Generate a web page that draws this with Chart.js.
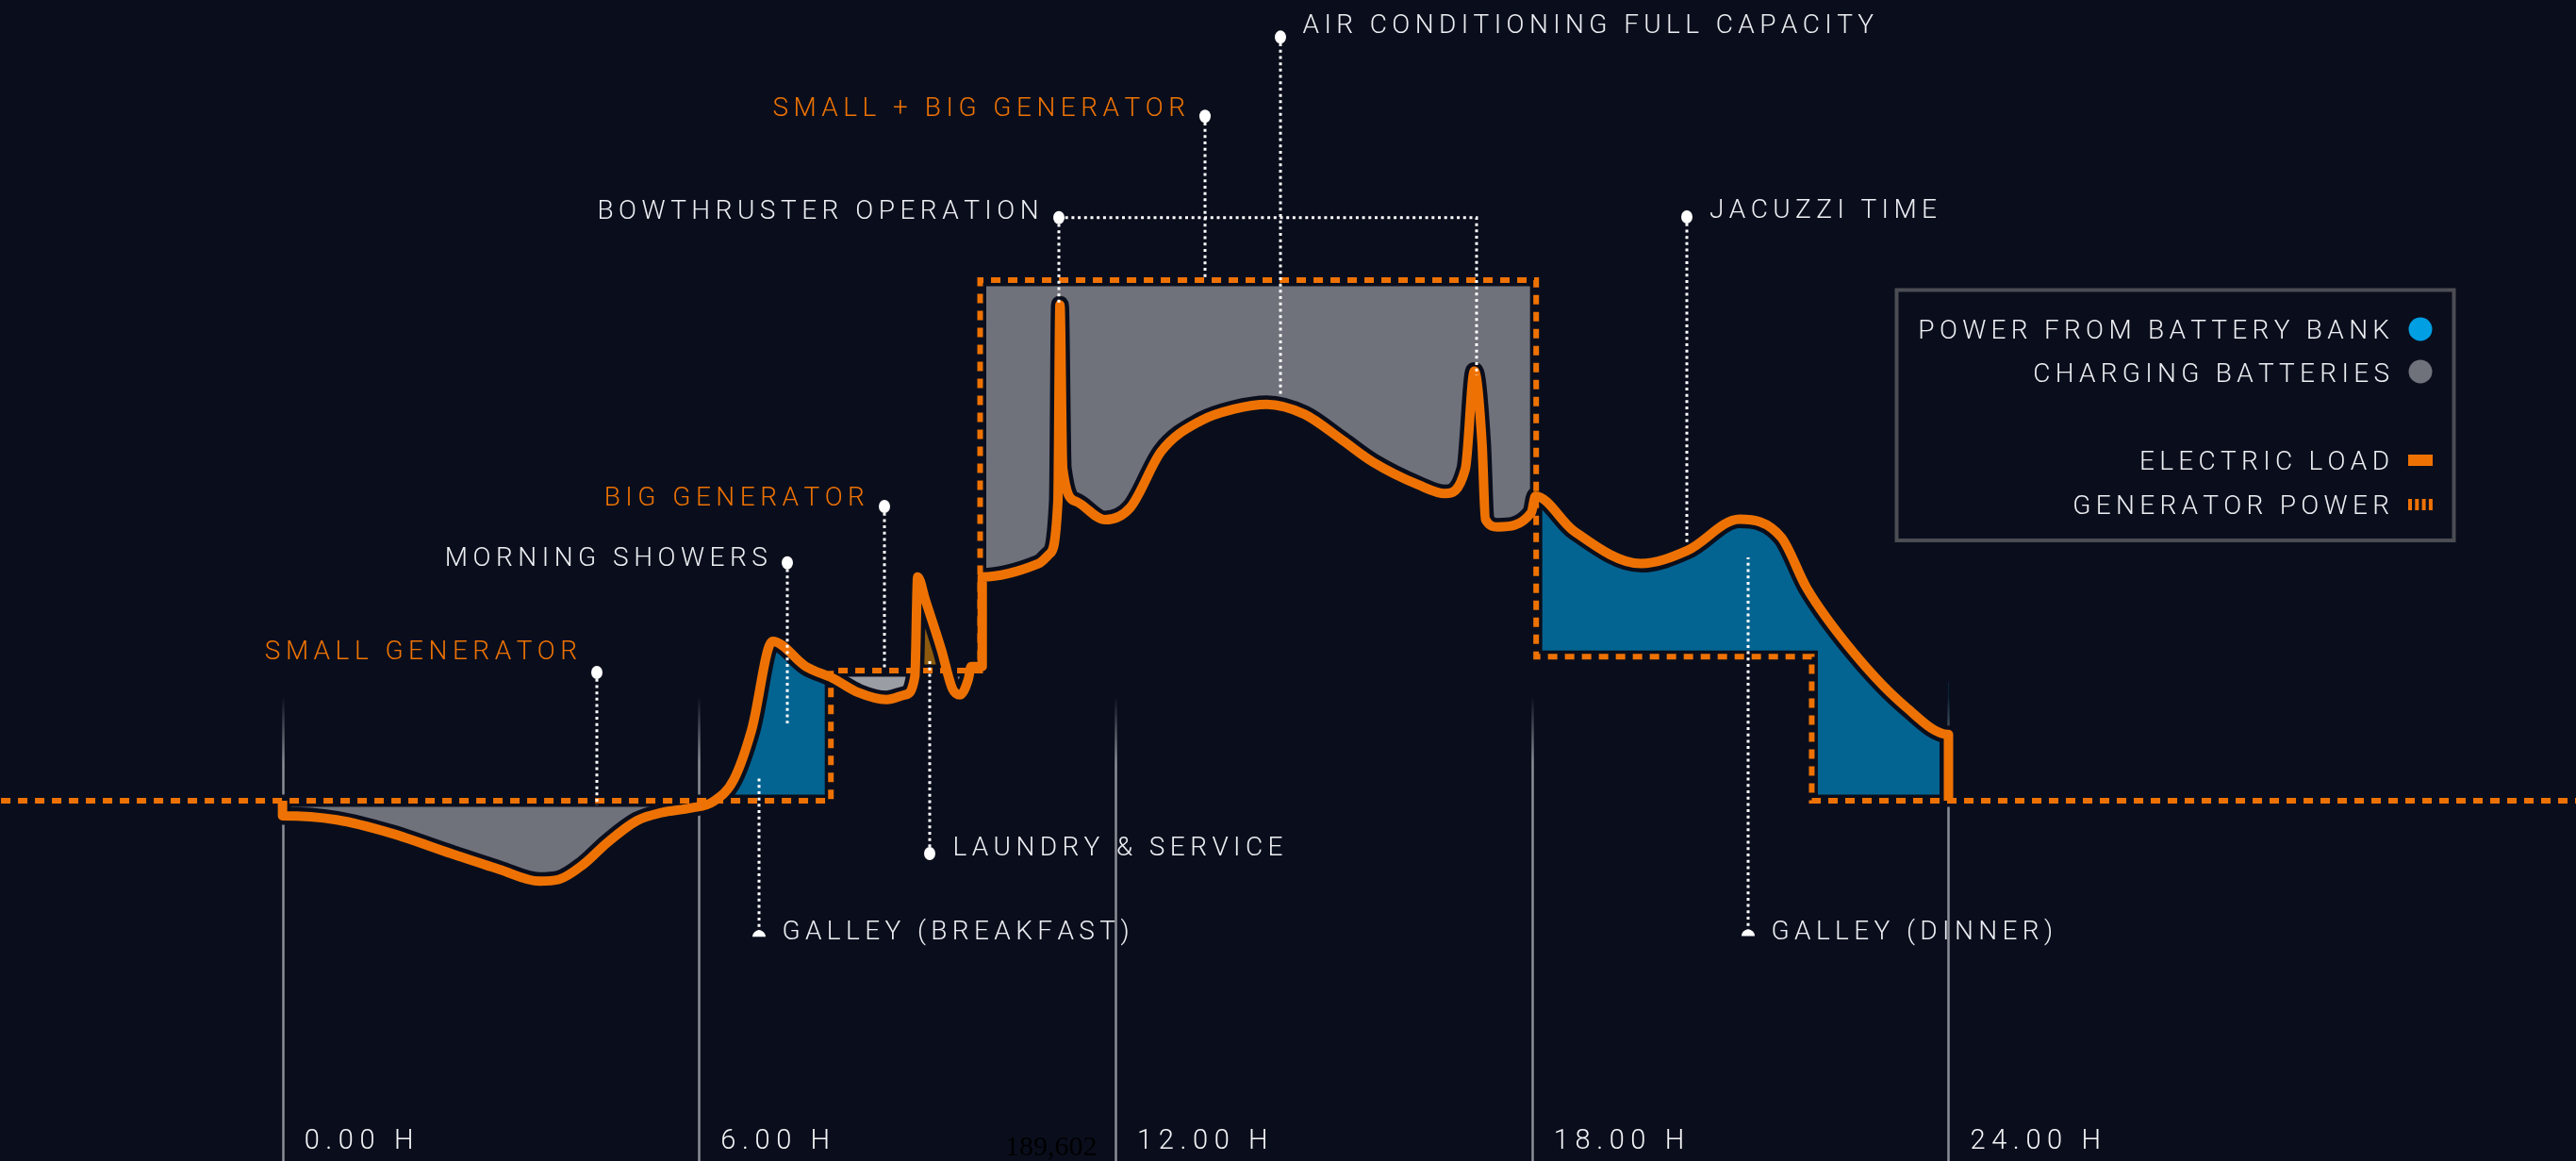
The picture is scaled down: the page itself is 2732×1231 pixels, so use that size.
<!DOCTYPE html>
<html>
<head>
<meta charset="utf-8">
<title>Yacht electric load over 24 hours</title>
<script src="https://cdn.jsdelivr.net/npm/chart.js@4.4.1/dist/chart.umd.min.js"></script>
<style>
  html, body { margin: 0; padding: 0; background: #0a0e1c; overflow: hidden; }
  #wrap { width: 2732px; height: 1231px; }
</style>
</head>
<body>
<div id="wrap"><canvas id="powerChart" width="2732" height="1231"></canvas></div>
<script>
// values: hour of day and kW
const loadHours = [0, 0, 0.78, 1.56, 2.43, 3.12, 3.7, 3.98, 4.33, 4.68, 5.11, 5.46, 5.89, 6.2, 6.5, 6.76,
  7.06, 7.54, 7.93, 8.3, 8.7, 8.97, 9.11, 9.15, 9.26, 9.49, 9.65, 9.76, 9.88, 9.92, 10.08, 10.08,
  10.89, 11.05, 11.17, 11.2, 11.24, 11.43, 11.85, 12.21, 12.66, 13.23, 13.7, 14.18, 14.72, 15.27,
  15.71, 16.36, 16.75, 17.04, 17.17, 17.28, 17.33, 17.51, 17.99, 18.05, 18.6, 19.57, 20.24, 20.99,
  21.59, 21.96, 22.63, 23.38, 24, 24];
const loadKw = [30, 28.84, 28.53, 27.51, 25.94, 24.73, 23.82, 23.95, 25.09, 26.79, 28.48, 29.08, 29.44, 29.92, 31.61, 35.48,
  42.25, 40.31, 39.4, 38.3, 37.77, 38.14, 39.58, 47.2, 45.43, 41.62, 38.62, 38.14, 39.35, 40.31, 40.31, 47.2,
  48.22, 48.97, 53.0, 68.1, 55.54, 53.0, 51.59, 52.51, 56.85, 59.2, 60.08, 60.46, 59.7, 57.69,
  56.02, 54.28, 53.6, 55.5, 63.0, 57.5, 51.6, 51.03, 52.14, 53.4, 50.74, 48.22, 49.23, 51.63,
  50.24, 46.32, 41.4, 37.23, 35.09, 30];

const genHours = [-4.3, 7.9, 7.9, 10.05, 10.05, 18.06, 18.06, 22.03, 22.03, 33.3];
const genKw = [30, 30, 40, 40, 70, 70, 41.06, 41.06, 30, 30];

const hourTicks = [0, 6, 12, 18, 24];
const hourLabels = ['0.00 H', '6.00 H', '12.00 H', '18.00 H', '24.00 H'];

const legendLabels = ['POWER FROM BATTERY BANK', 'CHARGING BATTERIES', 'ELECTRIC LOAD', 'GENERATOR POWER'];

const BG = '#0a0e1c';
const ORANGE = '#ee7203';
const WHITE = '#eceef2';
const BLUE_FILL = '#046491';
const GRAY_FILL = '#6f727b';
const LIGHT_FILL = '#9b9da4';
const BROWN_FILL = '#8d5a0e';
const FONT = '"Roboto", "Liberation Sans", sans-serif';

// callouts, anchored in hours / kW
const notes = [
  {text: 'SMALL GENERATOR', color: ORANGE, h: 4.53, kw: 39.85, toKw: 29.64, side: 'left', dy: -14},
  {text: 'MORNING SHOWERS', color: WHITE, h: 7.27, kw: 48.28, toKw: 35.94, side: 'left', dy: 3},
  {text: 'BIG GENERATOR', color: ORANGE, h: 8.67, kw: 52.61, toKw: 40, side: 'left', dy: -1},
  {text: 'BOWTHRUSTER OPERATION', color: WHITE, h: 11.18, kw: 74.8, toKw: 68.1, side: 'left', dy: 1,
    branch: {h: 17.2, toKw: 62.68}},
  {text: 'SMALL + BIG GENERATOR', color: ORANGE, h: 13.29, kw: 82.59, toKw: 70, side: 'left', dy: 0},
  {text: 'AIR CONDITIONING FULL CAPACITY', color: WHITE, h: 14.37, kw: 88.67, toKw: 61.0, side: 'right', dy: -4},
  {text: 'JACUZZI TIME', color: WHITE, h: 20.23, kw: 74.85, toKw: 49.71, side: 'right', dy: 1},
  {text: 'LAUNDRY & SERVICE', color: WHITE, h: 9.33, kw: 25.94, toKw: 40.8, side: 'right', dy: 2},
  {text: 'GALLEY (BREAKFAST)', color: WHITE, h: 6.87, kw: 19.83, toKw: 31.96, side: 'right', dy: 7, cap: true},
  {text: 'GALLEY (DINNER)', color: WHITE, h: 21.12, kw: 19.9, toKw: 48.7, side: 'right', dy: 8, cap: true}
];

const toPoints = (xs, ys) => xs.map((x, i) => ({x: x, y: ys[i]}));
const loadPts = toPoints(loadHours, loadKw);
const genPts = toPoints(genHours, genKw);
// stretch where the big generator runs alone before noon
const laundryPts = loadPts.slice(loadHours.indexOf(7.93), loadHours.indexOf(10.08) + 1);

function textWidth(ctx, text, spacing) {
  let w = 0;
  for (const ch of text) w += ctx.measureText(ch).width + spacing;
  return w - spacing;
}

function spacedText(ctx, text, x, y, spacing, align) {
  let cx = align === 'right' ? x - textWidth(ctx, text, spacing) : x;
  for (const ch of text) {
    ctx.fillText(ch, cx, y);
    cx += ctx.measureText(ch).width + spacing;
  }
}

const overlay = {
  id: 'overlay',
  beforeDraw(chart) {
    const ctx = chart.ctx;
    ctx.save();
    ctx.fillStyle = BG;
    ctx.fillRect(0, 0, chart.width, chart.height);
    ctx.restore();
  },
  beforeDatasetsDraw(chart) {
    const {ctx, scales: {x, y}} = chart;
    ctx.save();
    ctx.textAlign = 'left';
    ctx.textBaseline = 'alphabetic';

    // callout texts
    ctx.font = `300 28px ${FONT}`;
    notes.forEach(n => {
      const px = x.getPixelForValue(n.h);
      const py = y.getPixelForValue(n.kw);
      ctx.fillStyle = n.color;
      if (n.side === 'left') spacedText(ctx, n.text, px - 21, py + n.dy, 5.5, 'right');
      else spacedText(ctx, n.text, px + 24, py + n.dy, 5.4, 'left');
    });

    // hour lines, fading in at the top
    const top = y.getPixelForValue(38);
    const grad = ctx.createLinearGradient(0, top, 0, top + 70);
    grad.addColorStop(0, 'rgba(139,142,151,0)');
    grad.addColorStop(1, 'rgba(139,142,151,1)');
    ctx.strokeStyle = grad;
    ctx.lineWidth = 2.5;
    hourTicks.forEach(h => {
      const px = Math.round(x.getPixelForValue(h)) + 0.5;
      ctx.beginPath();
      ctx.moveTo(px, top);
      ctx.lineTo(px, chart.chartArea.bottom);
      ctx.stroke();
    });

    ctx.font = `300 29px ${FONT}`;
    ctx.fillStyle = '#f4f5f7';
    hourTicks.forEach((h, i) => {
      spacedText(ctx, hourLabels[i], x.getPixelForValue(h) + 23, 1218, 6.6, 'left');
    });

    ctx.font = '30px "Liberation Serif", serif';
    ctx.fillStyle = '#000000';
    ctx.fillText('189,602', 1066, 1225);
    ctx.restore();
  },
  afterDatasetsDraw(chart) {
    const {ctx, scales: {x, y}} = chart;
    ctx.save();
    ctx.strokeStyle = '#ffffff';
    ctx.fillStyle = '#ffffff';
    ctx.lineWidth = 3;
    ctx.setLineDash([3, 3.7]);
    notes.forEach(n => {
      const px = Math.round(x.getPixelForValue(n.h));
      const py = y.getPixelForValue(n.kw);
      ctx.beginPath();
      ctx.moveTo(px, py);
      ctx.lineTo(px, y.getPixelForValue(n.toKw));
      if (n.branch) {
        const bx = Math.round(x.getPixelForValue(n.branch.h));
        ctx.moveTo(px, py);
        ctx.lineTo(bx, py);
        ctx.lineTo(bx, y.getPixelForValue(n.branch.toKw));
      }
      ctx.stroke();
    });
    ctx.setLineDash([]);
    notes.forEach(n => {
      const px = Math.round(x.getPixelForValue(n.h));
      const py = y.getPixelForValue(n.kw);
      ctx.beginPath();
      if (n.cap) {
        ctx.arc(px, py + 4, 7, Math.PI, 0);
        ctx.closePath();
      } else {
        ctx.ellipse(px, py, 6, 7, 0, 0, Math.PI * 2);
      }
      ctx.fill();
    });

    // legend box
    ctx.strokeStyle = '#4b4d53';
    ctx.lineWidth = 4;
    ctx.strokeRect(2011.5, 307.5, 591, 265.5);
    ctx.font = `300 28px ${FONT}`;
    ctx.fillStyle = WHITE;
    const rows = [359, 405, 498, 545];
    legendLabels.forEach((t, i) => spacedText(ctx, t, 2534, rows[i], 5.3, 'right'));
    ctx.fillStyle = '#009fe3';
    ctx.beginPath(); ctx.arc(2567, 349, 12.5, 0, Math.PI * 2); ctx.fill();
    ctx.fillStyle = GRAY_FILL;
    ctx.beginPath(); ctx.arc(2567, 394, 12.5, 0, Math.PI * 2); ctx.fill();
    ctx.fillStyle = ORANGE;
    ctx.fillRect(2554, 482, 26, 12);
    for (let k = 0; k < 4; k++) ctx.fillRect(2554 + k * 7.3, 529, 4, 12);
    ctx.restore();
  }
};

const smooth = {cubicInterpolationMode: 'monotone', pointRadius: 0};

new Chart(document.getElementById('powerChart').getContext('2d'), {
  type: 'line',
  data: {
    datasets: [
      Object.assign({label: 'Electric load', data: loadPts, borderColor: ORANGE, borderWidth: 10,
        borderJoinStyle: 'round', borderCapStyle: 'butt', fill: false}, smooth),
      {label: 'Generator power', data: genPts, borderColor: ORANGE, borderWidth: 6, borderDash: [10, 8],
        tension: 0, pointRadius: 0, fill: false},
      Object.assign({label: 'load edge', data: loadPts, borderColor: BG, borderWidth: 19,
        borderJoinStyle: 'round', fill: false}, smooth),
      {label: 'generator edge', data: genPts, borderColor: BG, borderWidth: 13, tension: 0,
        pointRadius: 0, fill: false},
      Object.assign({label: 'laundry window', data: laundryPts, borderColor: 'rgba(0,0,0,0)', borderWidth: 0,
        fill: {target: 3, above: BROWN_FILL, below: LIGHT_FILL}}, smooth),
      Object.assign({label: 'Battery bank', data: loadPts, borderColor: 'rgba(0,0,0,0)', borderWidth: 0,
        fill: {target: 3, above: BLUE_FILL, below: GRAY_FILL}}, smooth)
    ]
  },
  options: {
    responsive: false,
    animation: false,
    devicePixelRatio: 1,
    events: [],
    layout: {padding: 0},
    plugins: {
      legend: {display: false},
      tooltip: {enabled: false}
    },
    scales: {
      x: {type: 'linear', min: -4.07, max: 33.04, display: false},
      y: {type: 'linear', min: 2.32, max: 91.52, display: false}
    }
  },
  plugins: [overlay]
});
</script>
</body>
</html>
